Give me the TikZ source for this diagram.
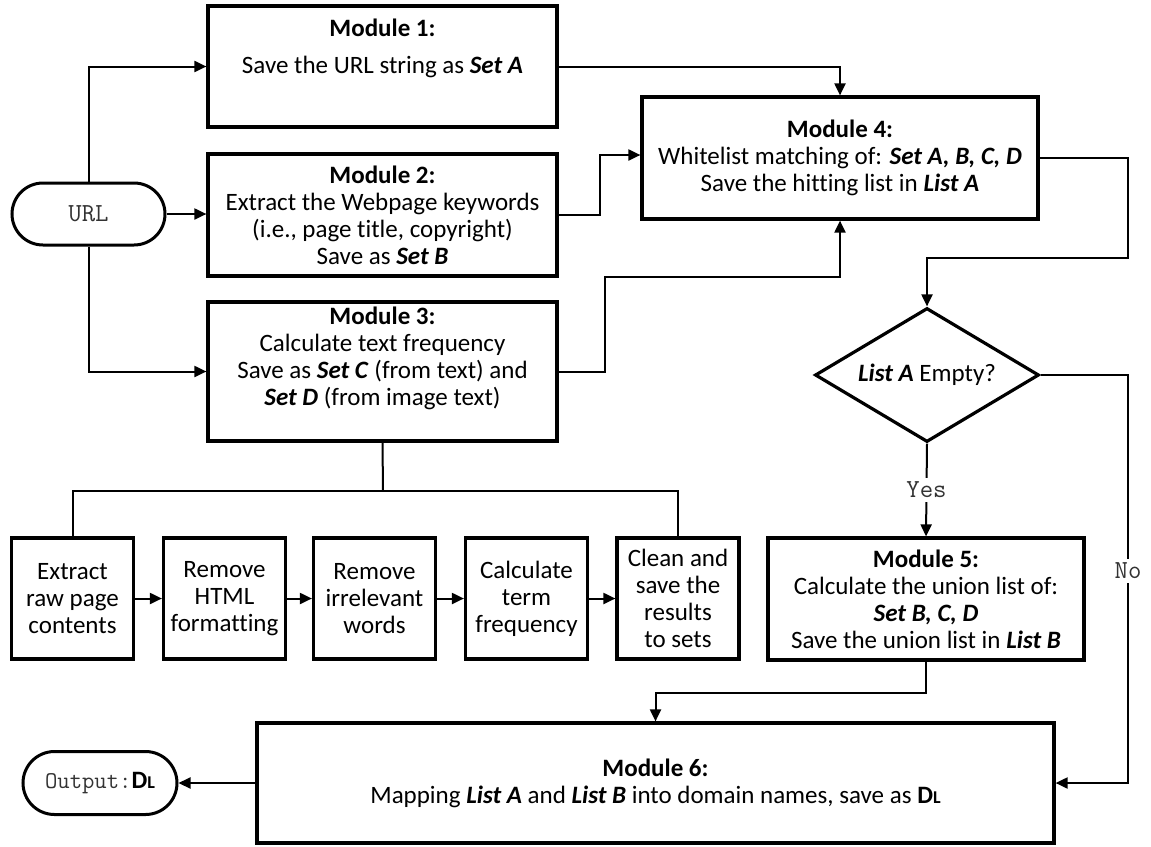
\documentclass[tikz,border=0pt]{standalone}
\usepackage{fontspec}
\setmainfont{Carlito}[Ligatures=NoCommon]
\usetikzlibrary{arrows.meta,shapes.misc,shapes.geometric,calc}
\newcommand{\bi}[1]{\textbf{\textit{#1}}}
\newcommand{\DL}{\textbf{D{\fontsize{18}{18}\selectfont L}}}
\begin{document}
\begin{tikzpicture}[x=1pt,y=-1pt,
  font=\fontsize{25}{27}\selectfont,
  box/.style={draw, line width=3.2pt, inner sep=0pt, align=center},
  smallbox/.style={box, minimum width=122pt, minimum height=121pt},
  term/.style={draw, line width=3pt, rounded rectangle, inner sep=0pt,
    minimum width=153pt, minimum height=62pt,
    font=\ttfamily\fontsize{26}{27}\selectfont, text=black!80},
  txt/.style={align=center, inner sep=0pt},
  conn/.style={line width=2pt},
  arr/.style={conn, -{Triangle[length=12pt,width=11pt]}},
  lbl/.style={fill=white, inner sep=4pt, text=black!80,
    font=\ttfamily\fontsize{26}{27}\selectfont},
]
\useasboundingbox (0,0) rectangle (1151,846);

% start / end terminals
\node[term] (url) at (88.5,214) {URL};
\node[term, minimum width=154pt, minimum height=63pt,
  font=\ttfamily\fontsize{24}{27}\selectfont] (out) at (100,783)
  {Output:{\rmfamily\color{black}\fontsize{25}{27}\selectfont\DL}};

% modules 1-3
\node[box, minimum width=349pt, minimum height=121pt] (m1) at (382.5,66.5) {};
\node[txt] (m1a) at (382.5,28) {\textbf{Module 1:}};
\node[txt] (m1b) at (382.5,67) {Save the URL string as \bi{Set A}};

\node[box, minimum width=349pt, minimum height=122pt] (m2) at (382.5,215)
  {\textbf{Module 2:}\\Extract the Webpage keywords\\(i.e., page title, copyright)\\Save as \bi{Set B}};

\node[box, minimum width=349pt, minimum height=139pt] (m3) at (382.5,371.5) {};
\node[txt] (m3t) at (382.5,358.5)
  {\textbf{Module 3:}\\Calculate text frequency\\Save as \bi{Set C} (from text) and\\\bi{Set D} (from image text)};

% module 4 and decision
\node[box, minimum width=396pt, minimum height=122pt] (m4) at (840,158)
  {\textbf{Module 4:}\\Whitelist matching of: \bi{Set A, B, C, D}\\Save the hitting list in \bi{List A}};

\node[draw, line width=3.2pt, diamond, aspect=1.67, inner sep=0pt,
  minimum width=224pt, minimum height=134pt] (dia) at (927,375)
  {\bi{List A} Empty?};

% module 5 and 6
\node[box, minimum width=316pt, minimum height=122pt] (m5) at (926,599)
  {\textbf{Module 5:}\\Calculate the union list of:\\\bi{Set B, C, D}\\Save the union list in \bi{List B}};

\node[box, minimum width=797pt, minimum height=120pt] (m6) at (655.5,783)
  {\textbf{Module 6:}\\Mapping \bi{List A} and \bi{List B} into domain names, save as \DL};

% text-processing steps of module 3
\node[smallbox] (s1) at (72.5,598.5) {Extract\\raw page\\contents};
\node[smallbox] (s2) at (224.5,598.5) {Remove\\HTML\\formatting};
\node[smallbox] (s3) at (374.5,598.5) {Remove\\irrelevant\\words};
\node[smallbox] (s4) at (526.5,598.5) {Calculate\\term\\frequency};
\node[smallbox] (s5) at (678,598.5) {Clean and\\save the\\results\\to sets};

% bend points
\coordinate (b2) at (600,215);
\coordinate (b3) at (605,277);
\coordinate (b4) at (1128,258);
\coordinate (bn) at (1128,375);
\coordinate (b5) at (926,693);
\coordinate (bs) at (383,491);

% connectors
\draw[arr] (url.north) |- (m1.west);
\draw[arr] (url.east) -- (url.east -| m2.west);
\draw[arr] (url.south) |- (m3.west);

\draw[arr] (m1.east) -| (m4.north);
\draw[arr] (m2.east) -- (m2.east -| b2) |- ($(m4.west)+(0,-3)$);
\draw[arr] (m3.east) -- (m3.east -| b3) -- (b3) -| (m4.south);

\draw[arr] (m4.east) -- (m4.east -| b4) -- (b4) -| (dia.north);
\draw[arr] (dia.south) -- node[lbl] {Yes} (m5.north);
\draw[arr] (dia.east) -- (bn) -- node[lbl, pos=0.48] {No} (bn |- m6.east) -- (m6.east);

\draw[arr] (m5.south) -- (b5) -| (m6.north);
\draw[arr] (m6.west) -- (out.east);

\draw[conn] (m3.south) -- (bs);
\draw[conn] (s1.north) |- (s5.north |- bs) -- (s5.north);
\draw[arr] (s1.east) -- (s2.west);
\draw[arr] (s2.east) -- (s3.west);
\draw[arr] (s3.east) -- (s4.west);
\draw[arr] (s4.east) -- (s5.west);
\end{tikzpicture}
\end{document}
